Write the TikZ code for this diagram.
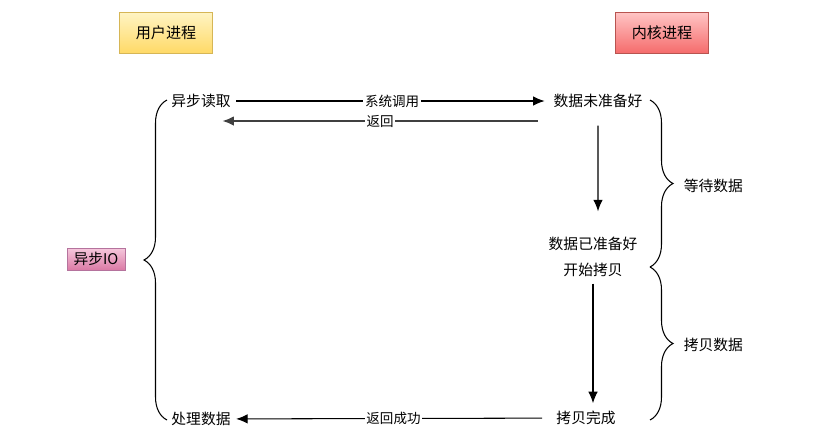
\documentclass[tikz,border=0pt]{standalone}
\usepackage{fontspec}
\newfontfamily\cjk{Noto Sans CJK SC}
\usetikzlibrary{arrows.meta,positioning,decorations.pathreplacing}

\definecolor{ylwtop}{HTML}{FFF4C3}
\definecolor{ylwbot}{HTML}{FFD966}
\definecolor{ylwline}{HTML}{D6B656}
\definecolor{redtop}{HTML}{FFC4C4}
\definecolor{redbot}{HTML}{F56B6B}
\definecolor{redline}{HTML}{B85450}
\definecolor{pnktop}{HTML}{F5C8DC}
\definecolor{pnkbot}{HTML}{DB7AA5}
\definecolor{pnkline}{HTML}{B5739D}

\begin{document}
\begin{tikzpicture}[
  x=0.02cm, y=-0.02cm,
  node distance=0.1cm,
  lbl/.style={inner sep=2pt, font=\cjk\fontsize{8.4}{10}\selectfont},
  tag/.style={draw, inner sep=2pt, minimum width=1.86cm, minimum height=0.82cm,
    font=\cjk\fontsize{8.6}{10}\selectfont},
  elbl/.style={fill=white, inner sep=1pt, font=\cjk\fontsize{7.7}{9}\selectfont},
  arrow/.style={-{Latex[length=2.3mm,width=1.9mm]}, line width=0.6pt},
  brc/.style={decorate, decoration={brace, amplitude=0.46cm}, line width=0.6pt}
]
\fill[white] (0,0) rectangle (831,437);

% the two processes
\node[tag, draw=ylwline, top color=ylwtop, bottom color=ylwbot] (user) at (166,33) {用户进程};
\node[tag, draw=redline, top color=redtop, bottom color=redbot] (kern) at (662,33) {内核进程};

% user side
\node[lbl] (read) at (201,101) {异步读取};
\node[lbl] (proc) at (201,419) {处理数据};

% kernel side
\node[lbl] (notready) at (598,101) {数据未准备好};
\node[lbl] (ready) at (593,244) {数据已准备好};
\node[lbl, below=of ready] (copy) {开始拷贝};
\node[lbl] (done) at (586,418) {拷贝完成};

\draw[arrow, shorten <=1pt, shorten >=3pt] (read) -- node[elbl] {系统调用} (notready);
\draw[arrow, line width=0.9pt, draw=black!75] ([shift={(-12,20)}]notready.west) -- node[elbl] {返回} ([shift={(-12,20)}]read.east);
\draw[arrow, shorten <=0.28cm, shorten >=0.44cm] (notready.south) -- ([xshift=0.1cm]ready.north);
\draw[arrow, shorten <=0.05cm, shorten >=0.08cm] (copy.south) -- (copy.south |- done.north);
\draw[arrow, shorten <=6pt, shorten >=1pt] (done) -- node[elbl] {返回成功} (proc);

% braces
\coordinate (ltop) at (167,100);
\coordinate (lbot) at (167,420);
\draw[brc] (lbot) -- (ltop);
\node[draw=pnkline, top color=pnktop, bottom color=pnkbot, inner sep=1pt,
  minimum width=1.16cm, minimum height=0.44cm,
  font=\cjk\fontsize{8.4}{10}\selectfont] (aio) at (96,259) {异步IO};

\coordinate (rtop) at (650,100);
\coordinate (rmid) at (650,267);
\coordinate (rbot) at (650,420);
\draw[brc] (rtop) -- (rmid);
\draw[brc] (rmid) -- (rbot);
\node[lbl, anchor=west] (wait) at (680,186) {等待数据};
\node[lbl, anchor=west] (cpdata) at (680,345) {拷贝数据};
\end{tikzpicture}
\end{document}
